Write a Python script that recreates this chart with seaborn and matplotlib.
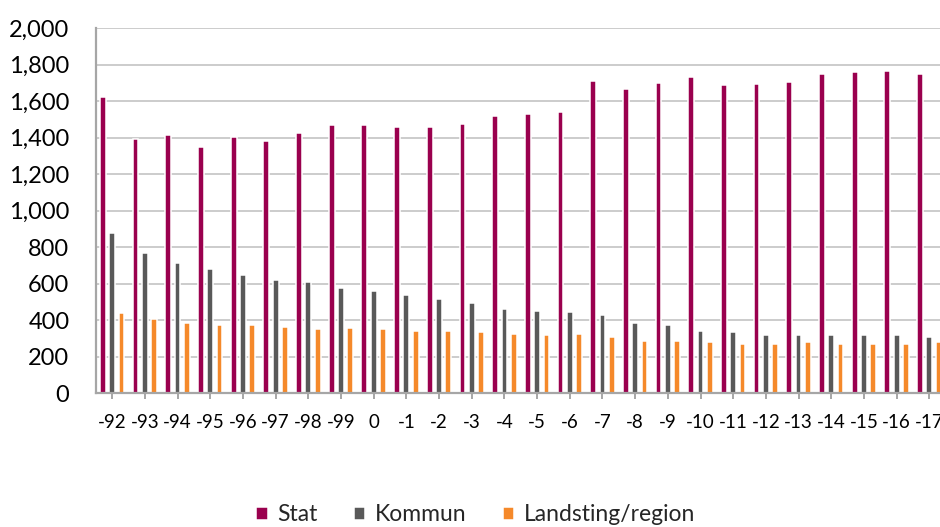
import pandas as pd
import matplotlib.pyplot as plt
import seaborn as sns

# --- Data ---
years = ["-92", "-93", "-94", "-95", "-96", "-97", "-98", "-99", "0",
         "-1", "-2", "-3", "-4", "-5", "-6", "-7", "-8", "-9", "-10",
         "-11", "-12", "-13", "-14", "-15", "-16", "-17"]
stat = [1625, 1391, 1417, 1346, 1402, 1380, 1424, 1468, 1472,
        1461, 1461, 1475, 1516, 1530, 1541, 1713, 1665, 1702, 1731,
        1691, 1695, 1706, 1746, 1757, 1764, 1750]
kommun = [879, 766, 711, 678, 649, 620, 609, 576, 561,
          536, 514, 495, 463, 452, 444, 426, 386, 371, 342,
          335, 316, 316, 316, 320, 316, 309]
landsting = [437, 404, 382, 375, 371, 360, 349, 356, 353,
             342, 338, 335, 324, 320, 324, 305, 287, 287, 280,
             272, 272, 280, 269, 272, 272, 280]
series = ["Stat", "Kommun", "Landsting/region"]
colors = ["#9A004E", "#595959", "#F5892A"]

df = pd.DataFrame({"year": years, "Stat": stat, "Kommun": kommun,
                   "Landsting/region": landsting})
df = df.melt(id_vars="year", var_name="sektor", value_name="value")

sns.set_theme(style="white")
plt.rcParams["font.family"] = ["Lato", "DejaVu Sans"]

fig = plt.figure(figsize=(9.4, 5.27), dpi=100)
ax = fig.add_axes([0.102, 0.254, 0.904, 0.6926])

sns.barplot(data=df, x="year", y="value", hue="sektor", order=years,
            hue_order=series, palette=colors, width=0.855, gap=0.38,
            edgecolor="white", linewidth=1.1, saturation=1,
            errorbar=None, ax=ax, zorder=3)

ax.set_xlim(-0.5, len(years) - 0.5)
ax.set_ylim(0, 2000)
ax.set_yticks(range(0, 2001, 200))
ax.set_yticklabels([f"{v:,}" for v in range(0, 2001, 200)])
ax.set_xlabel("")
ax.set_ylabel("")

ax.yaxis.grid(True, color="#BFBFBF", linewidth=1.1, zorder=0)
ax.set_axisbelow(True)
for side in ["top", "right"]:
    ax.spines[side].set_visible(False)
for side in ["left", "bottom"]:
    ax.spines[side].set_color("#A6A6A6")
    ax.spines[side].set_linewidth(1.6)
    ax.spines[side].set_zorder(5)

ax.tick_params(axis="y", length=0, pad=19, labelsize=17, labelcolor="#000000")
ax.tick_params(axis="x", length=4, width=1.4, color="#A6A6A6", pad=11,
               labelsize=13.5, labelcolor="#000000", bottom=True)

handles, labels = ax.get_legend_handles_labels()
ax.get_legend().remove()
fig.legend(handles, labels, loc="center", bbox_to_anchor=(0.506, 0.023),
           ncol=3, frameon=False, fontsize=16.5, handlelength=0.5,
           handleheight=0.5, handletextpad=0.4, columnspacing=1.6)

fig.savefig("out.png", dpi=100)
